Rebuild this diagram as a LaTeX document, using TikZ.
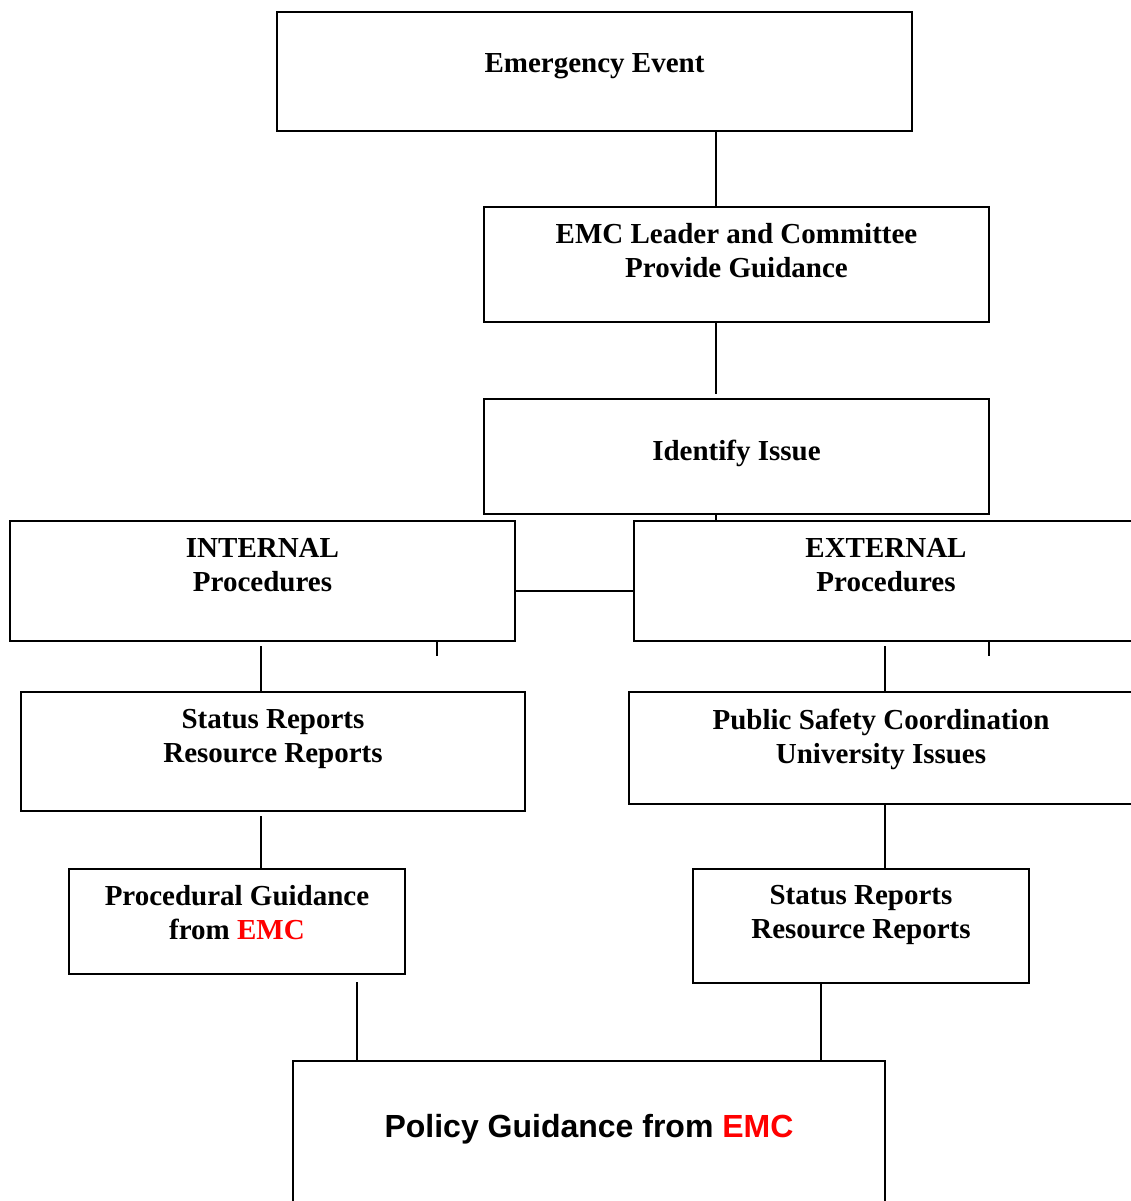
\documentclass[tikz,border=0pt]{standalone}
\usepackage{fontspec}
\setmainfont{Liberation Serif}
\setsansfont{Liberation Sans}
\usepackage{tikz}

\begin{document}
\begin{tikzpicture}[x=1pt,y=-1pt,line width=1.8pt,
  box/.style={rectangle,draw,line width=2pt,inner sep=0pt},
  txt/.style={align=center,inner sep=0pt,font=\bfseries\fontsize{29}{34}\selectfont}]

  \useasboundingbox (0,0) rectangle (1130,1201);

  \node[box,minimum width=635,minimum height=119] (1) at (594.5,71.5) {};
  \node[box,minimum width=505,minimum height=115] (2) at (736.5,264.5) {};
  \node[box,minimum width=505,minimum height=115] (3) at (736.5,456.5) {};
  \node[box,minimum width=505,minimum height=120] (4) at (262.5,581) {};
  \node[box,minimum width=504,minimum height=120] (5) at (886,581) {};
  \node[box,minimum width=504,minimum height=119] (6) at (273,751.5) {};
  \node[box,minimum width=504,minimum height=112] (7) at (881,748) {};
  \node[box,minimum width=336,minimum height=105] (8) at (237,921.5) {};
  \node[box,minimum width=336,minimum height=114] (9) at (861,926) {};
  \node[box,minimum width=592,minimum height=154] (10) at (589,1138) {};

  \node[txt] at ([yshift=-55]1.north) {Emergency Event};
  \node[txt] at ([yshift=-45]2.north) {EMC Leader and Committee\\Provide Guidance};
  \node[txt] at ([yshift=-55]3.north) {Identify Issue};
  \node[txt] at ([yshift=-45]4.north) {INTERNAL\\Procedures};
  \node[txt] at ([yshift=-45]5.north) {EXTERNAL\\Procedures};
  \node[txt] at ([yshift=-48]6.north) {Status Reports\\Resource Reports};
  \node[txt] at ([yshift=-48]7.north) {Public Safety Coordination\\University Issues};
  \node[txt] at ([yshift=-45]8.north) {Procedural Guidance\\from \textcolor{red}{EMC}};
  \node[txt] at ([yshift=-47]9.north) {Status Reports\\Resource Reports};
  \node[txt,font=\sffamily\bfseries\fontsize{32}{38}\selectfont]
    at ([yshift=-69]10.north) {Policy Guidance from \textcolor{red}{EMC}};

  % links between the boxes
  \draw ([xshift=-20.5]2.north) -- ([xshift=-20.5]2.north |- 1.south);
  \draw ([xshift=-20.5,yshift=2]2.south) -- ([xshift=-20.5,yshift=4]3.north);
  \draw ([xshift=-20.5]3.south) -- ([xshift=-20.5]3.south |- 5.north);
  \draw ([yshift=-10]4.east) -- ([yshift=-10]4.east -| 5.west);
  \draw ([xshift=-1.5,yshift=-4]4.south) -- ([xshift=-1.5]4.south |- 6.north);
  \draw ([xshift=174.5]4.south) -- ++(0,14);
  \draw ([xshift=-1,yshift=-4]5.south) -- ([xshift=-1]5.south |- 7.north);
  \draw ([xshift=103]5.south) -- ++(0,14);
  \draw ([xshift=-12,yshift=-4]6.south) -- ([xshift=-12]6.south |- 8.north);
  \draw ([xshift=4]7.south) -- ([xshift=4]7.south |- 9.north);
  \draw ([xshift=120,yshift=-7]8.south) -- ([xshift=120]8.south |- 10.north);
  \draw ([xshift=-40,yshift=2]9.south) -- ([xshift=-40]9.south |- 10.north);
\end{tikzpicture}
\end{document}
